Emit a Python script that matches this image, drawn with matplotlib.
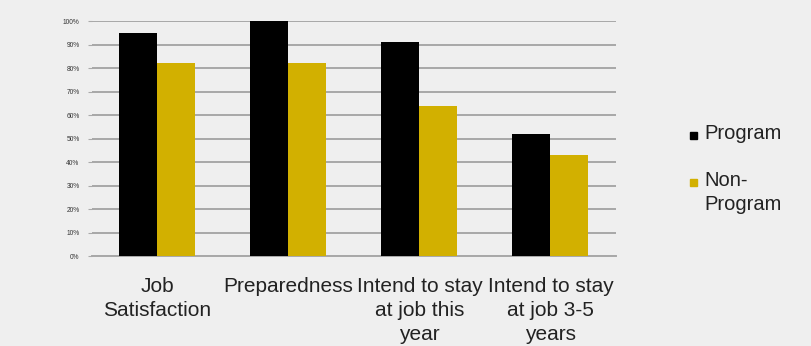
import matplotlib.pyplot as plt
from matplotlib.patches import Rectangle
import numpy as np

categories = ["Job\nSatisfaction", "Preparedness", "Intend to stay\nat job this\nyear",
              "Intend to stay\nat job 3-5\nyears"]
program = [95, 100, 91, 52]
non_program = [82, 82, 64, 43]
series_names = ["Program", "Non-\nProgram"]
series_colors = ["black", "#d2b000"]
yticks = list(range(0, 101, 10))

plt.rcParams['font.family'] = ['Liberation Sans', 'DejaVu Sans']

fig = plt.figure(figsize=(8.11, 3.46), dpi=100, facecolor='#efefef')
ax = fig.add_axes([0.1134, 0.26, 0.646, 0.679])
ax.set_facecolor('#efefef')

x = np.arange(len(categories))
w = 0.29
ax.bar(x - w / 2, program, w, color=series_colors[0], zorder=3)
ax.bar(x + w / 2, non_program, w, color=series_colors[1], zorder=3)

ax.set_xlim(-0.5, 3.5)
ax.set_ylim(0, 100)
ax.set_yticks(yticks)
ax.set_yticklabels([f"{t}%" for t in yticks], fontsize=4.8, color='#333333')
ax.yaxis.grid(True, color='#a8a8a8', linewidth=1.4, zorder=0)
ax.tick_params(axis='y', length=3, color='#aaaaaa', pad=6)
ax.set_xticks(x)
ax.set_xticklabels(categories, fontsize=15, linespacing=1.33, color='#222222')
ax.tick_params(axis='x', length=0, pad=15)
for s in ['top', 'right', 'left']:
    ax.spines[s].set_visible(False)
ax.spines['bottom'].set_color('#a8a8a8')
ax.spines['bottom'].set_linewidth(1.4)

# legend drawn by hand so the swatch sits on the first text line
legend_y = [135, 182]
for name, color, yp in zip(series_names, series_colors, legend_y):
    fy = 1 - yp / 346
    fig.patches.append(Rectangle((690 / 811, fy - 3.5 / 346), 7 / 811, 7 / 346,
                                 transform=fig.transFigure, color=color))
    fig.text(704 / 811, fy + 11 / 346, name, fontsize=14.5, va='top', ha='left',
             color='#222222', linespacing=1.33)

fig.savefig('out.png', dpi=100, facecolor=fig.get_facecolor())
